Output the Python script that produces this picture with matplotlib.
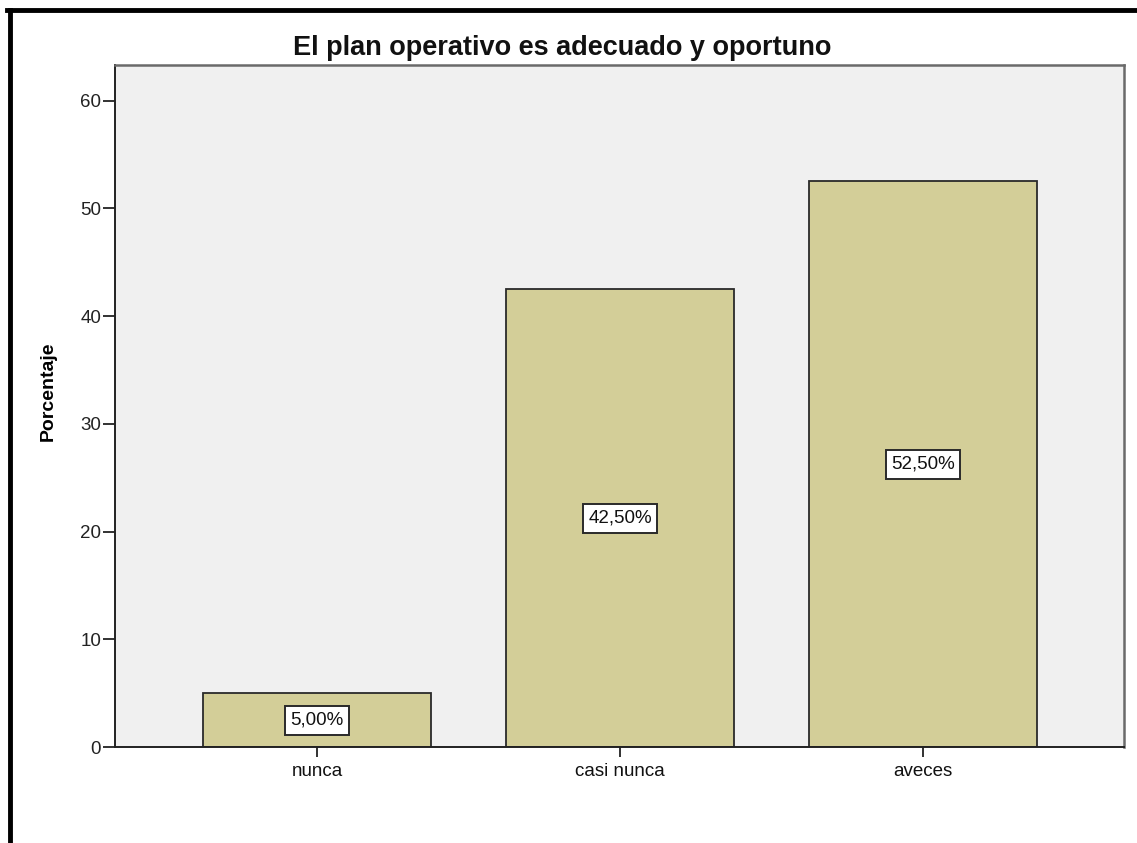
import matplotlib
matplotlib.use("Agg")
import matplotlib.pyplot as plt
from matplotlib.lines import Line2D
from matplotlib.patches import Rectangle

plt.rcParams['font.family'] = ['Liberation Sans', 'DejaVu Sans']

categorias = ['nunca', 'casi nunca', 'aveces']
porcentajes = [5.00, 42.50, 52.50]
etiquetas = ['5,00%', '42,50%', '52,50%']
yticks = [0, 10, 20, 30, 40, 50, 60]

W, H = 1137, 843
fig = plt.figure(figsize=(W / 100, H / 100), dpi=100)
ax = fig.add_axes([115 / W, 1 - 747 / H, (1124 - 115) / W, (747 - 65) / H])
ax.set_facecolor('#f0f0f0')

x = list(range(len(categorias)))
ax.bar(x, porcentajes, width=0.75, color='#d3ce98', edgecolor='#2a2a2a', linewidth=1.3, zorder=2)

textos = []
for xi, v, lab in zip(x, porcentajes, etiquetas):
    t = ax.text(xi, v / 2, lab, ha='center', va='center', fontsize=13.5, color='#111111', zorder=4)
    textos.append(t)

ax.set_xlim(-0.667, 2.663)
ax.set_ylim(0, 63.3)
ax.set_xticks(x)
ax.set_xticklabels(categorias, fontsize=13.5, color='#111111')
ax.set_yticks(yticks)
ax.set_yticklabels([str(t) for t in yticks], fontsize=13.5, color='#222222')
ax.tick_params(axis='y', direction='out', length=8.5, width=1.3, color='#222222', pad=1.5)
ax.tick_params(axis='x', direction='out', length=7.5, width=1.3, color='#222222', pad=4)

for s in ['left', 'bottom']:
    ax.spines[s].set_color('#222222')
    ax.spines[s].set_linewidth(1.4)
for s in ['top', 'right']:
    ax.spines[s].set_color('#6a6a6a')
    ax.spines[s].set_linewidth(1.8)

ax.set_ylabel('Porcentaje', fontsize=14, fontweight='bold')
ax.yaxis.set_label_coords(-0.058, 0.522)

# título centrado sobre el lienzo completo
fig.text(562 / W, 1 - 55 / H, 'El plan operativo es adecuado y oportuno',
         ha='center', va='baseline', fontsize=19.5, fontweight='bold', color='#111111')

# cajas blancas de las etiquetas: poco margen lateral, más margen vertical
fig.canvas.draw()
r = fig.canvas.get_renderer()
for t in textos:
    bb = t.get_window_extent(r)
    cx, cy = (bb.x0 + bb.x1) / 2, (bb.y0 + bb.y1) / 2
    w, h = bb.width + 10, 29
    ax.add_artist(Rectangle((cx - w / 2, cy - h / 2), w, h, transform=None,
                            facecolor='white', edgecolor='#2a2a2a', linewidth=1.4, zorder=3))

# marco negro del lienzo (izquierda y arriba)
fig.add_artist(Line2D([9.5 / W, 9.5 / W], [0, 1 - 10 / H], color='black', linewidth=3.5, transform=fig.transFigure))
fig.add_artist(Line2D([7 / W, 1], [1 - 10 / H, 1 - 10 / H], color='black', linewidth=3.5, transform=fig.transFigure))

fig.savefig('out.png', dpi=100, facecolor='white')
